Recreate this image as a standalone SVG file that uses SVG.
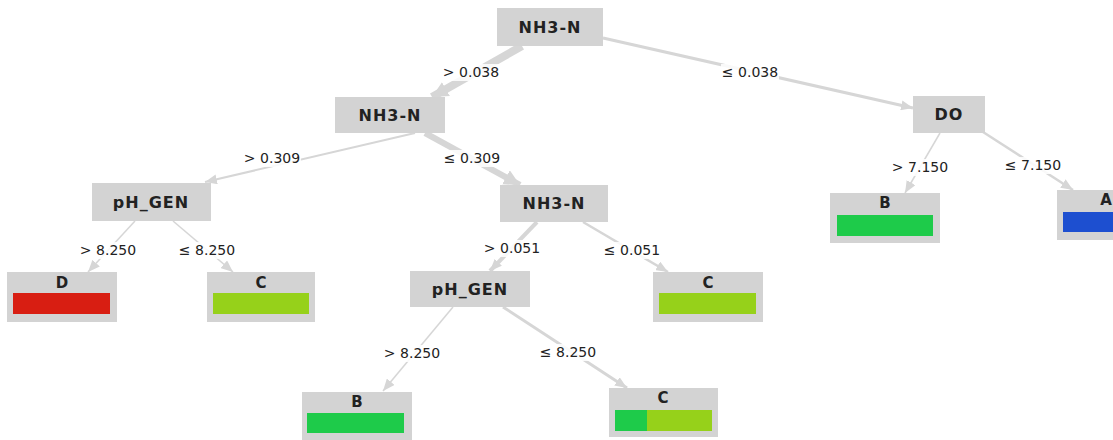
<svg xmlns="http://www.w3.org/2000/svg" width="1113" height="440" viewBox="0 0 1113 440">
<style>
.node{fill:#d3d3d3}
.nt{font-family:"DejaVu Sans",sans-serif;font-weight:bold;font-size:16px;letter-spacing:1px;fill:#222;text-anchor:middle}
.lt{font-family:"DejaVu Sans",sans-serif;font-weight:bold;font-size:15px;fill:#222;text-anchor:middle}
.el{font-family:"DejaVu Sans",sans-serif;font-size:14px;fill:#222;text-anchor:middle}
.e{stroke:#d6d6d6;fill:none}
.lb{fill:#ffffff;opacity:0.85}
</style>
<defs>
<marker id="ah" markerUnits="userSpaceOnUse" markerWidth="12" markerHeight="10" refX="12" refY="5" orient="auto">
<path d="M0,0 L12,5 L0,10 Z" fill="#d6d6d6"/>
</marker>
<marker id="ahb" markerUnits="userSpaceOnUse" markerWidth="16" markerHeight="16" refX="16" refY="8" orient="auto">
<path d="M0,0 L16,8 L0,16 Z" fill="#d6d6d6"/>
</marker>
</defs>
<rect width="1113" height="440" fill="#ffffff"/>
<g id="connectors">
<line class="e" x1="522" y1="46" x2="432" y2="97" stroke-width="8" marker-end="url(#ahb)"/>
<line class="e" x1="603" y1="38" x2="913" y2="108" stroke-width="3" marker-end="url(#ah)"/>
<line class="e" x1="415" y1="133" x2="205" y2="182" stroke-width="2" marker-end="url(#ah)"/>
<line class="e" x1="425" y1="133" x2="520" y2="185" stroke-width="6" marker-end="url(#ahb)"/>
<line class="e" x1="135" y1="221" x2="88" y2="272" stroke-width="1.5" marker-end="url(#ah)"/>
<line class="e" x1="173" y1="221" x2="233" y2="272" stroke-width="1.5" marker-end="url(#ah)"/>
<line class="e" x1="537" y1="222" x2="490" y2="271" stroke-width="4" marker-end="url(#ah)"/>
<line class="e" x1="583" y1="222" x2="668" y2="272" stroke-width="2.5" marker-end="url(#ah)"/>
<line class="e" x1="940" y1="133" x2="905" y2="193" stroke-width="1.5" marker-end="url(#ah)"/>
<line class="e" x1="983" y1="132" x2="1073" y2="190" stroke-width="2.5" marker-end="url(#ah)"/>
<line class="e" x1="453" y1="307" x2="383" y2="391" stroke-width="1.5" marker-end="url(#ah)"/>
<line class="e" x1="503" y1="307" x2="627" y2="388" stroke-width="3" marker-end="url(#ah)"/>
</g>
<g id="edge-labels">
<rect class="lb" x="442" y="64" width="58" height="17"/><text class="el" x="471" y="77">&gt; 0.038</text>
<rect class="lb" x="721" y="64" width="58" height="17"/><text class="el" x="750" y="77">≤ 0.038</text>
<rect class="lb" x="243" y="150" width="58" height="17"/><text class="el" x="272" y="163">&gt; 0.309</text>
<rect class="lb" x="443" y="150" width="58" height="17"/><text class="el" x="472" y="163">≤ 0.309</text>
<rect class="lb" x="79" y="242" width="58" height="17"/><text class="el" x="108" y="255">&gt; 8.250</text>
<rect class="lb" x="178" y="242" width="58" height="17"/><text class="el" x="207" y="255">≤ 8.250</text>
<rect class="lb" x="483" y="240" width="58" height="17"/><text class="el" x="512" y="253">&gt; 0.051</text>
<rect class="lb" x="603" y="242" width="58" height="17"/><text class="el" x="632" y="255">≤ 0.051</text>
<rect class="lb" x="891" y="159" width="58" height="17"/><text class="el" x="920" y="172">&gt; 7.150</text>
<rect class="lb" x="1004" y="157" width="58" height="17"/><text class="el" x="1033" y="170">≤ 7.150</text>
<rect class="lb" x="383" y="345" width="58" height="17"/><text class="el" x="412" y="358">&gt; 8.250</text>
<rect class="lb" x="539" y="344" width="58" height="17"/><text class="el" x="568" y="357">≤ 8.250</text>
</g>
<g id="n-root"><rect class="node" x="497" y="8" width="106" height="38"/><text class="nt" x="550" y="33">NH3-N</text></g>
<g id="n-nh3-2"><rect class="node" x="335" y="97" width="110" height="36"/><text class="nt" x="390" y="121">NH3-N</text></g>
<g id="n-do"><rect class="node" x="913" y="96" width="72" height="37"/><text class="nt" x="949" y="120">DO</text></g>
<g id="n-ph-1"><rect class="node" x="92" y="183" width="119" height="38"/><text class="nt" x="151" y="208">pH_GEN</text></g>
<g id="n-nh3-3"><rect class="node" x="500" y="185" width="108" height="37"/><text class="nt" x="554" y="209">NH3-N</text></g>
<g id="n-ph-2"><rect class="node" x="410" y="271" width="120" height="36"/><text class="nt" x="470" y="295">pH_GEN</text></g>
<g id="leaf-d"><rect class="node" x="7" y="272" width="110" height="50"/><text class="lt" x="62" y="288">D</text><rect x="13" y="293" width="97" height="21" fill="#d81e12"/></g>
<g id="leaf-c1"><rect class="node" x="207" y="272" width="108" height="50"/><text class="lt" x="261" y="288">C</text><rect x="213" y="293" width="96" height="21" fill="#96d11a"/></g>
<g id="leaf-c2"><rect class="node" x="653" y="272" width="110" height="50"/><text class="lt" x="708" y="288">C</text><rect x="659" y="293" width="97" height="21" fill="#96d11a"/></g>
<g id="leaf-b1"><rect class="node" x="830" y="193" width="110" height="50"/><text class="lt" x="885" y="208">B</text><rect x="837" y="215" width="96" height="21" fill="#1ecb4a"/></g>
<g id="leaf-a"><rect class="node" x="1057" y="190" width="110" height="50"/><text class="lt" x="1106" y="205">A</text><rect x="1063" y="212" width="97" height="20" fill="#1d4fd0"/></g>
<g id="leaf-b2"><rect class="node" x="302" y="392" width="110" height="50"/><text class="lt" x="357" y="407">B</text><rect x="307" y="413" width="97" height="20" fill="#1ecb4a"/></g>
<g id="leaf-c3"><rect class="node" x="609" y="388" width="109" height="49"/><text class="lt" x="663" y="403">C</text><rect x="615" y="410" width="32" height="21" fill="#1ecb4a"/><rect x="647" y="410" width="65" height="21" fill="#96d11a"/></g>
</svg>
